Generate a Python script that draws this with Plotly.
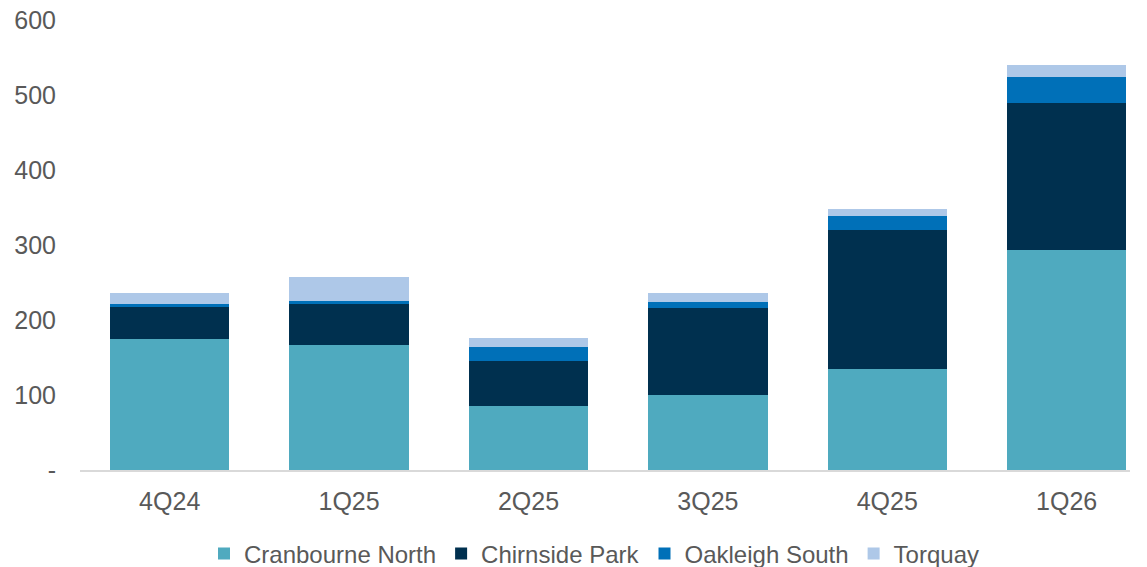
import plotly.graph_objects as go

quarters = ["4Q24", "1Q25", "2Q25", "3Q25", "4Q25", "1Q26"]
cranbourne_north = [175, 167, 86, 100, 135, 293]
chirnside_park = [43, 54, 59, 116, 185, 196]
oakleigh_south = [4, 5, 19, 8, 19, 35]
torquay = [14, 31, 12, 12, 9, 16]

y_ticks = [0, 100, 200, 300, 400, 500, 600]
y_tick_text = ["-", "100", "200", "300", "400", "500", "600"]

series = [
    ("Cranbourne North", cranbourne_north, "#4FAABF"),
    ("Chirnside Park", chirnside_park, "#00304F"),
    ("Oakleigh South", oakleigh_south, "#0070B8"),
    ("Torquay", torquay, "#AEC8E8"),
]

fig = go.Figure()
for name, vals, color in series:
    fig.add_trace(go.Bar(x=quarters, y=vals, name=name,
                         marker=dict(color=color, line=dict(width=0))))

font = dict(family="Liberation Sans, Arial, sans-serif", size=25, color="#595959")
fig.update_layout(
    barmode="stack",
    bargap=0.335,
    width=1147, height=567,
    margin=dict(l=80, r=17, t=20, b=97, autoexpand=False),
    paper_bgcolor="white", plot_bgcolor="white",
    font=font,
    showlegend=True,
    legend=dict(orientation="h", x=0.49, xanchor="center",
                yref="container", y=0.023, yanchor="middle",
                font=dict(family="Liberation Sans, Arial, sans-serif", size=24, color="#595959"),
                traceorder="normal", itemwidth=30),
    xaxis=dict(range=[-0.5, 5.353], showline=True, linecolor="#D9D9D9", linewidth=1.5,
               ticks="", showgrid=False, tickfont=font, ticklabelstandoff=8, automargin=False),
    yaxis=dict(range=[0, 600], tickvals=y_ticks, ticktext=y_tick_text, showgrid=False,
               zeroline=False, showline=False, ticks="", ticklabelstandoff=23, tickfont=font,
               automargin=False),
)

fig.write_html("out.html")
